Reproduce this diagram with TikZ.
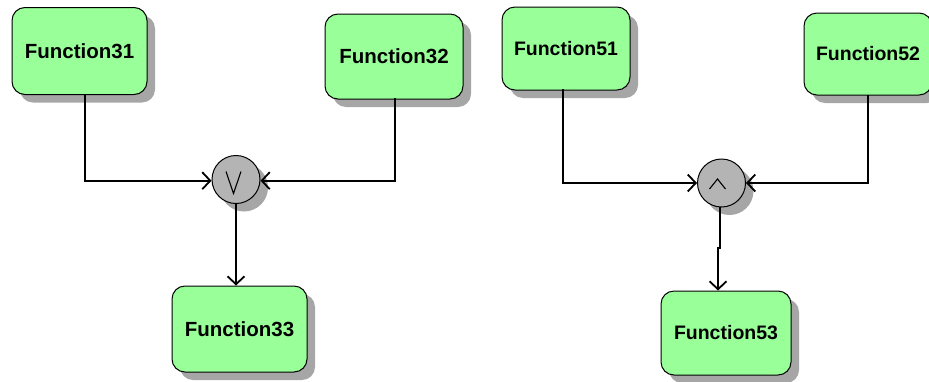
\documentclass[tikz,border=0pt]{standalone}
\usepackage{fontspec}
\setmainfont{Liberation Sans}
\usetikzlibrary{shadows,arrows.meta,calc}
\definecolor{boxgreen}{HTML}{99FF99}
\definecolor{shadowgray}{HTML}{A6A6A6}
\definecolor{circgray}{HTML}{B4B4B4}
\tikzset{
  funcbox/.style={draw=black, line width=1pt, fill=boxgreen, rounded corners=13pt,
    inner sep=0pt, font=\bfseries\fontsize{20.5}{24}\selectfont,
    general shadow={fill=shadowgray, shadow xshift=8pt, shadow yshift=-8pt}},
  funcboxb/.style={funcbox, font=\bfseries\fontsize{19.5}{23}\selectfont},
  gate/.style={circle, draw=black, line width=1pt, fill=circgray, minimum size=48pt, inner sep=0pt,
    general shadow={fill=shadowgray, shadow xshift=8pt, shadow yshift=-8pt}},
  conn/.style={line width=2pt, line cap=rect},
  arr/.style={conn, -{Straight Barb[length=8pt,width=17pt,line width=1.8pt]}},
}
\newcommand{\lowtxt}[1]{\raisebox{-2pt}{#1}}
\begin{document}
\begin{tikzpicture}[x=1pt,y=-1pt]
\useasboundingbox (0,0) rectangle (929,381);
% left diagram
\node[funcbox, minimum width=135pt, minimum height=87pt] (f31) at (79.5,51) {\lowtxt{Function31}};
\node[funcbox, minimum width=138pt, minimum height=85pt] (f32) at (394,56.5) {\lowtxt{Function32}};
\node[funcbox, minimum width=135pt, minimum height=86pt] (f33) at (239.5,329) {\lowtxt{Function33}};
\node[gate] (or1) at (236,179.5) {};
\draw[line width=1.1pt] ($(or1.center)+(-10,-8)$) -- ($(or1.center)+(-2.5,14)$) -- ($(or1.center)+(5,-8)$);
\coordinate (c31) at (85,180.7);
\coordinate (c32) at (395,180.7);
\draw[arr] (85,94.5) -- (c31) -- (c31 -| or1.west);
\draw[arr] (395,99) -- (c32) -- (c32 -| or1.east);
\draw[arr] (or1.south) -- (or1.south |- f33.north);
% right diagram
\node[funcboxb, minimum width=128pt, minimum height=83pt] (f51) at (566,48.5) {\lowtxt{Function51}};
\node[funcboxb, minimum width=128pt, minimum height=82pt] (f52) at (868,54) {\lowtxt{Function52}};
\node[funcboxb, minimum width=130pt, minimum height=84pt] (f53) at (726,333) {\lowtxt{Function53}};
\node[gate] (and1) at (721.5,183) {};
\draw[line width=1.1pt] ($(and1.center)+(-12,6)$) -- ($(and1.center)+(-4,-4)$) -- ($(and1.center)+(4,6)$);
\coordinate (c51) at (563,183);
\coordinate (c52) at (868,183);
\draw[arr] (563,90) -- (c51) -- (c51 -| and1.west);
\draw[arr] (f52.south) -- (c52) -- (c52 -| and1.east);
\coordinate (j1) at (720,248);
\coordinate (j2) at (718,248);
\draw[arr] (and1.south -| j1) -- (j1) -- (j2) -- (j2 |- f53.north);
\end{tikzpicture}
\end{document}
